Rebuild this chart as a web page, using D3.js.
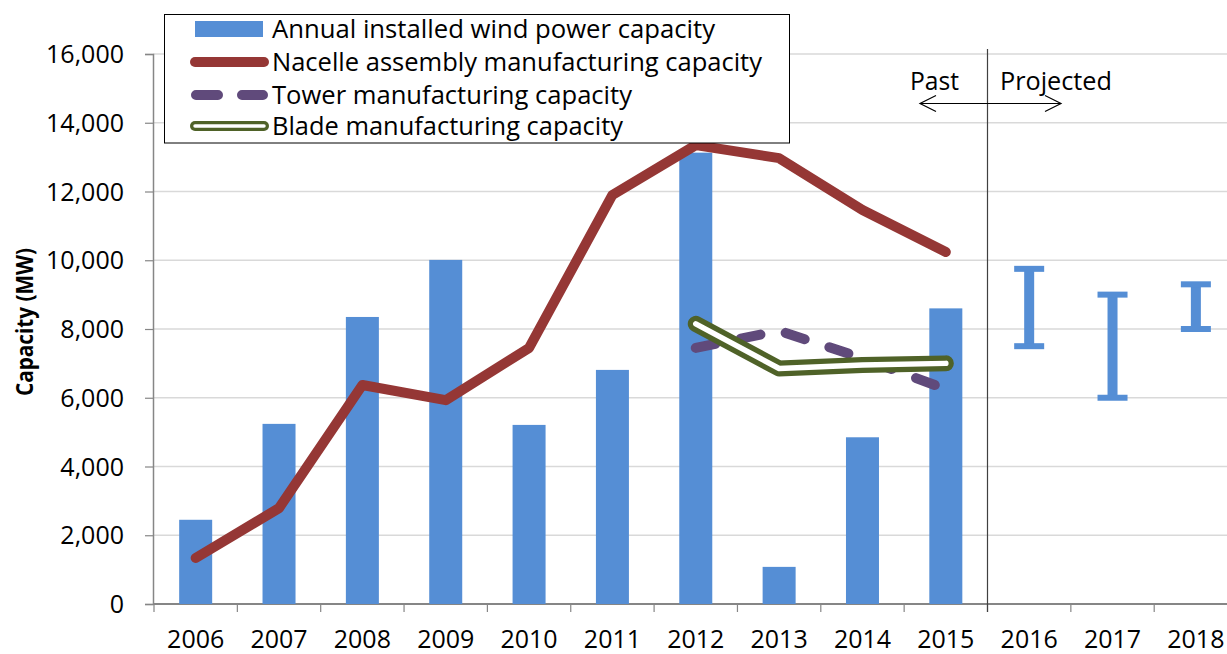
<!DOCTYPE html>
<html><head><meta charset="utf-8">
<script src="https://cdn.jsdelivr.net/npm/d3@7"></script>
<style>
html,body{margin:0;padding:0;background:#fff;}
svg{display:block;font-family:"Open Sans",sans-serif;}
</style></head>
<body>
<script>
// ---- data ----
const years = ["2006","2007","2008","2009","2010","2011","2012","2013","2014","2015","2016","2017","2018"];
const pastYears = ["2006","2007","2008","2009","2010","2011","2012","2013","2014","2015"];
const installed = [2450,5240,8350,10010,5210,6810,13130,1080,4850,8600];
const nacelle = [1340,2790,6370,5930,7450,11900,13350,12970,11460,10240];
const lateYears = ["2012","2013","2014","2015"];
const tower = [7450,7950,7150,6250];
const blade = [8150,6850,6950,7000];
const projYears = ["2016","2017","2018"];
const projLow = [7500,6000,8000];
const projHigh = [9750,9000,9300];
const yTicks = [0,2000,4000,6000,8000,10000,12000,14000,16000];
const legendLabels = ["Annual installed wind power capacity","Nacelle assembly manufacturing capacity","Tower manufacturing capacity","Blade manufacturing capacity"];

const C = {blue:"#558ED5", red:"#953735", purple:"#604A7B", olive:"#4F6228", grid:"#d9d9d9", axis:"#868686"};

const W = 1227, H = 654;
const svg = d3.select("body").append("svg").attr("width",W).attr("height",H);

const x0 = 154, bw = 83.35;
const x = d3.scaleBand().domain(years).range([x0, x0 + bw*years.length]);
const y = d3.scaleLinear().domain([0,16000]).range([604,54]);
const xc = d => x(d) + x.bandwidth()/2;

// gridlines
svg.append("g").selectAll("line").data(yTicks.filter(d=>d>0)).join("line")
  .attr("x1",153).attr("x2",W).attr("y1",d=>y(d)).attr("y2",d=>y(d))
  .attr("stroke",C.grid).attr("stroke-width",1.5);

// y axis
const yAxis = svg.append("g").attr("transform","translate(153,0)")
  .call(d3.axisLeft(y).tickValues(yTicks).tickSize(8).tickPadding(6).tickFormat(d3.format(",")));
yAxis.select(".domain").attr("stroke",C.axis).attr("stroke-width",1.5);
yAxis.selectAll(".tick line").attr("stroke",C.axis).attr("stroke-width",1.2);
yAxis.selectAll(".tick text").attr("font-size",25).attr("fill","#000")
  .attr("font-family","'Open Sans',sans-serif").attr("x",-29).attr("dy","0.34em");

// x axis
const xAxis = svg.append("g").attr("transform","translate(0,604)")
  .call(d3.axisBottom(x).tickSize(0).tickPadding(26));
xAxis.select(".domain").remove();
svg.append("line").attr("x1",153).attr("x2",W).attr("y1",604).attr("y2",604)
  .attr("stroke",C.axis).attr("stroke-width",2);
xAxis.selectAll(".tick text").attr("font-size",25).attr("fill","#000")
  .attr("font-family","'Open Sans',sans-serif").attr("dy","0.71em");
svg.append("g").selectAll("line").data(years).join("line")
  .attr("x1",d=>x(d)).attr("x2",d=>x(d)).attr("y1",604).attr("y2",612)
  .attr("stroke",C.axis).attr("stroke-width",1.2);

// y axis title
svg.append("text").attr("transform","translate(33,322) rotate(-90)")
  .attr("text-anchor","middle").attr("font-size",23).attr("font-weight","bold")
  .attr("textLength",148).attr("lengthAdjust","spacingAndGlyphs")
  .text("Capacity (MW)");

// bars
svg.append("g").selectAll("rect").data(pastYears).join("rect")
  .attr("x",d=>xc(d)-16.5).attr("width",33)
  .attr("y",(d,i)=>y(installed[i])).attr("height",(d,i)=>604-y(installed[i]))
  .attr("fill",C.blue);

// projected range bars
const pg = svg.append("g").attr("fill",C.blue);
projYears.forEach((d,i)=>{
  const cx = xc(d);
  pg.append("rect").attr("x",cx-5).attr("width",10)
    .attr("y",y(projHigh[i])).attr("height",y(projLow[i])-y(projHigh[i]));
  pg.append("rect").attr("x",cx-15).attr("width",30).attr("y",y(projHigh[i])-3).attr("height",6);
  pg.append("rect").attr("x",cx-15).attr("width",30).attr("y",y(projLow[i])-3).attr("height",6);
});

// lines
const lineP = d3.line().x(d=>xc(d[0])).y(d=>y(d[1]));
svg.append("path").datum(pastYears.map((d,i)=>[d,nacelle[i]]))
  .attr("d",lineP).attr("fill","none").attr("stroke",C.red).attr("stroke-width",10)
  .attr("stroke-linecap","round").attr("stroke-linejoin","round");
svg.append("path").datum(lateYears.map((d,i)=>[d,tower[i]]))
  .attr("d",lineP).attr("fill","none").attr("stroke",C.purple).attr("stroke-width",10)
  .attr("stroke-dasharray","20,26").attr("stroke-linecap","round").attr("stroke-linejoin","round");
const bd = lateYears.map((d,i)=>[d,blade[i]]);
svg.append("path").datum(bd).attr("d",lineP).attr("fill","none").attr("stroke",C.olive)
  .attr("stroke-width",16).attr("stroke-linecap","round").attr("stroke-linejoin","round");
svg.append("path").datum(bd).attr("d",lineP).attr("fill","none").attr("stroke","#fff")
  .attr("stroke-width",5.5).attr("stroke-linecap","round").attr("stroke-linejoin","round");

// past / projected divider
const divX = x("2016");
svg.append("line").attr("x1",divX).attr("x2",divX).attr("y1",49).attr("y2",612)
  .attr("stroke","#404040").attr("stroke-width",1.2);
const ay = 103.5, ax1 = 920, ax2 = 1061;
svg.append("path")
  .attr("d",`M${ax1},${ay}H${ax2} M${ax1+16},${ay-8}L${ax1},${ay}L${ax1+16},${ay+8} M${ax2-16},${ay-8}L${ax2},${ay}L${ax2-16},${ay+8}`)
  .attr("fill","none").attr("stroke","#000").attr("stroke-width",1.2);
svg.append("text").attr("x",910).attr("y",90).attr("font-size",25)
  .attr("textLength",49).attr("lengthAdjust","spacingAndGlyphs").text("Past");
svg.append("text").attr("x",1000).attr("y",90).attr("font-size",25)
  .attr("textLength",112).attr("lengthAdjust","spacingAndGlyphs").text("Projected");

// legend
const lg = svg.append("g");
lg.append("rect").attr("x",164.5).attr("y",14.5).attr("width",625).attr("height",128.5)
  .attr("fill","#fff").attr("stroke","#000").attr("stroke-width",1);
const ly = [29,62,95,126];
const lw = [443,490,360,351];
lg.append("rect").attr("x",195).attr("y",ly[0]-8).attr("width",68).attr("height",16).attr("fill",C.blue);
lg.append("line").attr("x1",195).attr("x2",264).attr("y1",ly[1]).attr("y2",ly[1])
  .attr("stroke",C.red).attr("stroke-width",10).attr("stroke-linecap","round");
lg.append("path").attr("d",`M196,${ly[2]}H218 M242,${ly[2]}H263`)
  .attr("stroke",C.purple).attr("stroke-width",10).attr("stroke-linecap","round");
lg.append("line").attr("x1",195).attr("x2",264).attr("y1",ly[3]).attr("y2",ly[3])
  .attr("stroke",C.olive).attr("stroke-width",10).attr("stroke-linecap","round");
lg.append("line").attr("x1",195).attr("x2",264).attr("y1",ly[3]).attr("y2",ly[3])
  .attr("stroke","#fff").attr("stroke-width",3.5).attr("stroke-linecap","round");
lg.selectAll("text.l").data(legendLabels).join("text").attr("class","l")
  .attr("x",272).attr("y",(d,i)=>ly[i]+9).attr("font-size",25)
  .attr("textLength",(d,i)=>lw[i]).attr("lengthAdjust","spacingAndGlyphs").text(d=>d);
</script>
</body></html>
